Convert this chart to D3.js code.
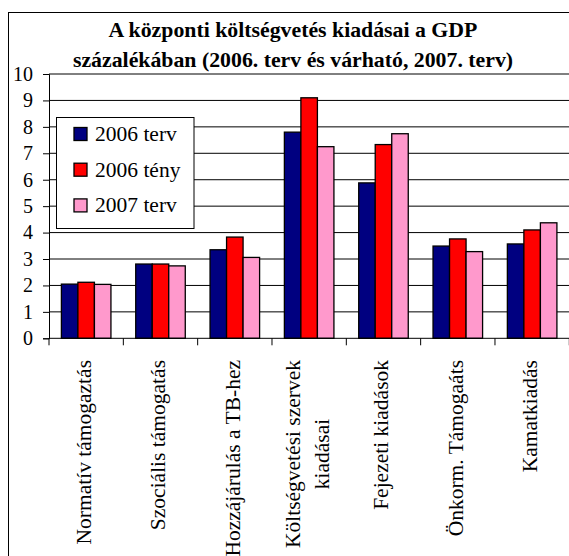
<!DOCTYPE html>
<html>
<head>
<meta charset="utf-8">
<script src="https://cdn.jsdelivr.net/npm/d3@7"></script>
<style>
  html, body { margin: 0; padding: 0; background: #fff; }
  svg { display: block; }
  text { font-family: "Liberation Serif", "Times New Roman", Times, serif; fill: #000; }
</style>
</head>
<body>
<svg id="chart" width="569" height="556"></svg>
<script>
// Budget expenditure categories (% of GDP)
const categories = [
  "Normatív támogaztás",
  "Szociális  támogatás",
  "Hozzájárulás a TB-hez",
  "Költségvetési szervek\nkiadásai",
  "Fejezeti kiadások",
  "Önkorm. Támogaáts",
  "Kamatkiadás"
];
const seriesNames = ["2006 terv", "2006 tény", "2007 terv"];
const plan2006 = [2.05, 2.81, 3.35, 7.80, 5.88, 3.49, 3.57];
const actual2006 = [2.12, 2.81, 3.83, 9.10, 7.33, 3.76, 4.10];
const plan2007 = [2.04, 2.74, 3.06, 7.25, 7.74, 3.28, 4.37];
const yTicks = [0, 1, 2, 3, 4, 5, 6, 7, 8, 9, 10];
const titleLines = [
  "A központi költségvetés kiadásai a GDP",
  "százalékában (2006. terv és várható, 2007. terv)"
];
const colors = ["#000080", "#FF0000", "#FF99CC"];

const seriesValues = [plan2006, actual2006, plan2007];
const rows = categories.map((c, i) => ({
  cat: c,
  vals: seriesNames.map((s, k) => ({ key: s, value: seriesValues[k][i] }))
}));

const svg = d3.select("#chart");

// outer frame of the chart object
svg.append("rect")
  .attr("x", 8.5).attr("y", 12.5)
  .attr("width", 570).attr("height", 560)
  .attr("fill", "#fff").attr("stroke", "#000").attr("stroke-width", 1);

// title
svg.append("text")
  .attr("x", 293).attr("text-anchor", "middle")
  .attr("font-weight", "bold").attr("font-size", 21.8)
  .selectAll("tspan").data(titleLines).join("tspan")
  .attr("x", 293)
  .attr("y", (d, i) => 37 + i * 30)
  .text(d => d);

const plot = { left: 49, right: 569.3, top: 74, bottom: 338.3 };

const x0 = d3.scaleBand().domain(categories)
  .range([plot.left, plot.right]).paddingInner(0).paddingOuter(0);
const x1 = d3.scaleBand().domain(seriesNames)
  .range([0, x0.bandwidth()]).paddingInner(0).paddingOuter(0.75);
const y = d3.scaleLinear().domain([0, 10]).range([plot.bottom, plot.top]);

// horizontal gridlines
svg.append("g")
  .selectAll("line").data(yTicks.filter(t => t > 0)).join("line")
  .attr("x1", plot.left).attr("x2", plot.right + 5)
  .attr("y1", d => y(d)).attr("y2", d => y(d))
  .attr("stroke", "#000").attr("stroke-width", 1);

// bars
svg.append("g")
  .selectAll("g").data(rows).join("g")
  .attr("transform", d => `translate(${x0(d.cat)},0)`)
  .selectAll("rect").data(d => d.vals).join("rect")
  .attr("x", d => x1(d.key))
  .attr("y", d => y(d.value))
  .attr("width", x1.bandwidth())
  .attr("height", d => y(0) - y(d.value))
  .attr("fill", (d, i) => colors[i])
  .attr("stroke", "#000").attr("stroke-width", 1.3);

// y axis
const yAxis = svg.append("g")
  .attr("transform", `translate(${plot.left},0)`)
  .call(d3.axisLeft(y).tickValues(yTicks).tickFormat(d3.format("d")).tickSize(6).tickPadding(10));
yAxis.select(".domain").attr("stroke", "#000");
yAxis.selectAll(".tick line").attr("stroke", "#000");
yAxis.selectAll("text").attr("font-size", 20);

// x axis: ticks between categories
const xAxis = svg.append("g");
xAxis.append("line")
  .attr("x1", plot.left).attr("x2", plot.right + 5)
  .attr("y1", plot.bottom).attr("y2", plot.bottom)
  .attr("stroke", "#000");
const boundaries = categories.map(c => x0(c)).concat([x0(categories[categories.length - 1]) + x0.bandwidth()]);
xAxis.selectAll("line.tk").data(boundaries).join("line")
  .attr("class", "tk")
  .attr("x1", d => d).attr("x2", d => d)
  .attr("y1", plot.bottom).attr("y2", plot.bottom + 7)
  .attr("stroke", "#000");

// rotated category labels, ending just below the axis
const labelTop = 360;
const lineGap = 29;
const labels = svg.append("g");
categories.forEach(c => {
  const lines = c.split("\n");
  const cx = x0(c) + x0.bandwidth() / 2;
  const g = labels.append("g");
  const t = g.append("text").attr("text-anchor", "middle").attr("font-size", 21.5);
  lines.forEach((ln, i) => {
    t.append("tspan")
      .attr("x", 0)
      .attr("y", 5 + (i - (lines.length - 1) / 2) * lineGap)
      .text(ln);
  });
  let maxLen = 0;
  t.selectAll("tspan").each(function () { maxLen = Math.max(maxLen, this.getComputedTextLength()); });
  g.attr("transform", `translate(${cx},${labelTop + maxLen / 2}) rotate(-90)`);
});

// legend
const legend = svg.append("g");
legend.append("rect")
  .attr("x", 56.5).attr("y", 117.5).attr("width", 137.5).attr("height", 111)
  .attr("fill", "#fff").attr("stroke", "#000").attr("stroke-width", 1);
const items = legend.selectAll("g.item").data(seriesNames).join("g")
  .attr("class", "item")
  .attr("transform", (d, i) => `translate(74,${134 + i * 35.7})`);
items.append("rect")
  .attr("x", 0).attr("y", -6.5).attr("width", 13).attr("height", 13)
  .attr("fill", (d, i) => colors[i]).attr("stroke", "#000").attr("stroke-width", 1.3);
items.append("text")
  .attr("x", 21).attr("y", 7)
  .attr("font-size", 21.5)
  .text(d => d);
</script>
</body>
</html>
